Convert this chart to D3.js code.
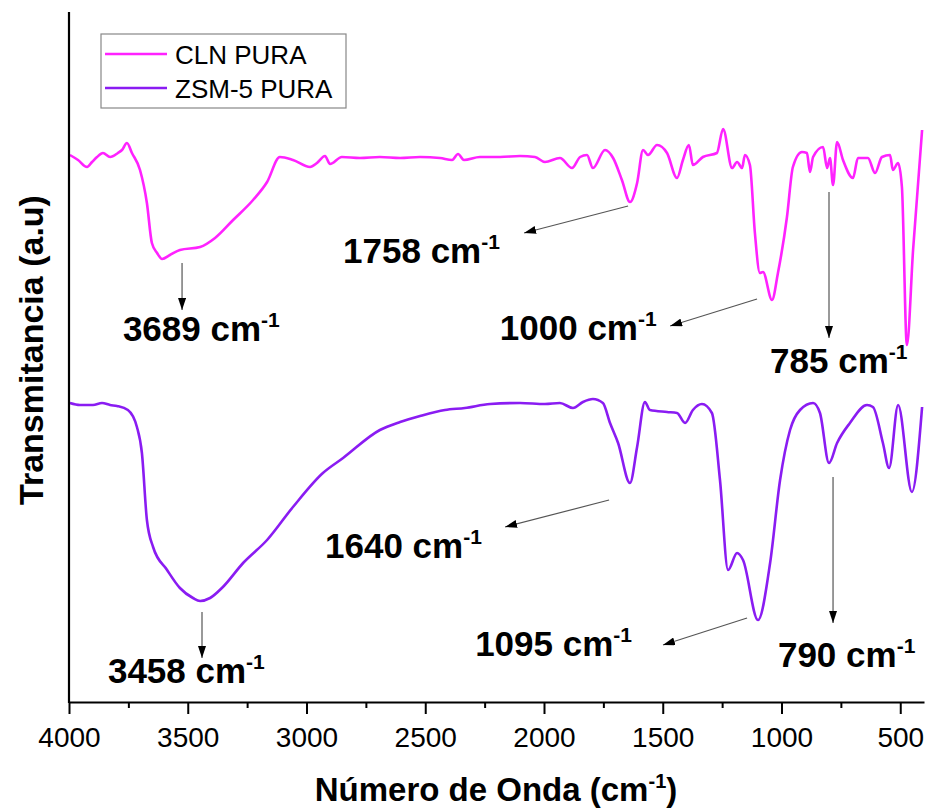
<!DOCTYPE html>
<html>
<head>
<meta charset="utf-8">
<script src="https://cdn.jsdelivr.net/npm/d3@7"></script>
<style>
  body { margin: 0; background: #fff; }
  text { font-family: "Liberation Sans", Arial, sans-serif; }
</style>
</head>
<body>
<div id="chart"></div>
<script>
// Data (wavenumber in cm-1, transmittance in a.u., offset curves)
const clnWave = [3996, 3962, 3924, 3903, 3882, 3857, 3827, 3794, 3777, 3756, 3735, 3701, 3672, 3651, 3629, 3608,
    3575, 3533, 3448, 3385, 3309, 3225, 3166, 3112, 3057, 2985, 2956, 2922, 2901, 2851, 2775, 2691, 2606, 2522,
    2438, 2387, 2362, 2337, 2270, 2185, 2101, 2038, 1996, 1933, 1882, 1848, 1819, 1794, 1743, 1709, 1672, 1638,
    1608, 1583, 1562, 1524, 1482, 1440, 1415, 1390, 1373, 1331, 1272, 1246, 1208, 1187, 1166, 1154, 1133, 1112,
    1091, 1078, 1040, 1015, 977, 952, 914, 893, 880, 867, 825, 808, 796, 783, 766, 741, 699, 678, 636, 606, 577,
    543, 531, 509, 493, 472, 446, 408];
const clnValue = [547, 542, 535, 540, 545, 549, 545, 549, 552, 559, 549, 532, 499, 459, 449, 443,
    447, 452, 455, 464, 482, 502, 520, 545, 542, 535, 539, 546, 538, 545, 544, 545, 544, 545,
    544, 542, 548, 542, 545, 545, 546, 545, 540, 544, 534, 545, 547, 534, 552, 544, 522, 500,
    519, 552, 547, 557, 549, 524, 542, 557, 537, 545, 549, 573, 534, 540, 534, 547, 537, 469,
    429, 430, 402, 429, 485, 535, 550, 549, 530, 545, 555, 534, 544, 517, 560, 542, 524, 544, 544, 529, 545,
    547, 532, 539, 515, 357, 452, 572];

const zsmWave = [3996, 3954, 3899, 3861, 3827, 3798, 3752, 3714, 3693, 3672, 3646, 3587, 3533, 3478, 3448, 3406,
    3352, 3267, 3166, 3057, 2931, 2846, 2691, 2606, 2522, 2417, 2333, 2227, 2101, 1996, 1933, 1878, 1836, 1794,
    1752, 1722, 1688, 1638, 1608, 1575, 1554, 1482, 1440, 1406, 1373, 1335, 1293, 1259, 1225, 1187, 1162, 1099,
    1048, 1006, 964, 922, 867, 838, 800, 766, 712, 640, 615, 573, 547, 509, 451, 408];
const zsmValue = [299, 297, 297, 299, 297, 296, 292, 275, 249, 182, 155, 132, 114, 104, 101, 104,
    115, 139, 162, 195, 229, 244, 272, 280, 286, 292, 294, 298, 299, 298, 299, 294, 300, 303,
    299, 279, 259, 219, 255, 300, 292, 290, 289, 279, 292, 298, 289, 222, 132, 149, 142, 82,
    139, 222, 272, 292, 299, 289, 239, 259, 279, 297, 295, 259, 234, 297, 210, 295];

const seriesNames = ["CLN PURA", "ZSM-5 PURA"];
const seriesColors = ["#ff22ff", "#8a1cf2"];

const majorTicks = [4000, 3500, 3000, 2500, 2000, 1500, 1000, 500];
const minorTicks = [3750, 3250, 2750, 2250, 1750, 1250, 750];

// Peak labels: arrow from [wave, a.u.] to [wave, a.u.], label anchored at [wave, a.u.]
const peakLabels = ["3689", "1758", "1000", "785", "1640", "3458", "1095", "790"];
const arrowFrom = [[3524, 439], [1646, 496], [1103, 403], [800, 510], [1726, 202], [3440, 90], [1145, 84], [783, 225]];
const arrowTo = [[3524, 392], [2084, 469], [1469, 376], [800, 364], [2164, 175], [3440, 44], [1499, 57], [783, 79]];
const labelAt = [[3773, 361], [2846, 439], [2186, 362], [1048, 329], [2922, 144], [3836, 19], [2290, 46], [1015, 35]];

const W = 925, H = 812;
const svg = d3.select("#chart").append("svg")
    .attr("width", W)
    .attr("height", H);

const x = d3.scaleLinear().domain([4000, 400]).range([69, 924]);
const y = d3.scaleLinear().domain([0, 690]).range([702, 12]);

// arrow marker
svg.append("defs").append("marker")
    .attr("id", "arrow")
    .attr("viewBox", "0 0 12 8")
    .attr("refX", 12)
    .attr("refY", 4)
    .attr("markerWidth", 12)
    .attr("markerHeight", 8)
    .attr("markerUnits", "userSpaceOnUse")
    .attr("orient", "auto")
    .append("path")
    .attr("d", "M0,0 L12,4 L0,8 Z")
    .attr("fill", "#000");

// spectra
const line = d3.line()
    .x(d => x(d[0]))
    .y(d => y(d[1]))
    .curve(d3.curveMonotoneX);

const series = [d3.zip(clnWave, clnValue), d3.zip(zsmWave, zsmValue)];
series.forEach((pts, i) => {
    svg.append("path")
        .datum(pts)
        .attr("d", line)
        .attr("fill", "none")
        .attr("stroke", seriesColors[i])
        .attr("stroke-width", 2.6)
        .attr("stroke-linejoin", "round");
});

// axes
const xAxis = svg.append("g")
    .attr("transform", `translate(0,${y(0)})`)
    .call(d3.axisBottom(x).tickValues(majorTicks).tickSize(12).tickSizeOuter(0)
        .tickPadding(13).tickFormat(d3.format("d")));
xAxis.select(".domain").attr("stroke-width", 2.2);
xAxis.selectAll(".tick line").attr("stroke-width", 2);
xAxis.selectAll(".tick text")
    .style("font-size", "28px")
    .attr("fill", "#000");

svg.append("g")
    .attr("transform", `translate(0,${y(0)})`)
    .call(d3.axisBottom(x).tickValues(minorTicks).tickSize(6).tickSizeOuter(0).tickFormat(""))
    .call(g => g.select(".domain").remove())
    .selectAll(".tick line").attr("stroke-width", 2);

svg.append("line")
    .attr("x1", x(4000)).attr("x2", x(4000))
    .attr("y1", y(690)).attr("y2", y(0) + 1)
    .attr("stroke", "#000")
    .attr("stroke-width", 2.2);

// axis titles
const xt = svg.append("text")
    .attr("x", 496)
    .attr("y", 801)
    .attr("text-anchor", "middle")
    .style("font-size", "33px")
    .style("font-weight", "bold")
    .text("Número de Onda (cm");
xt.append("tspan").attr("dy", -13).style("font-size", "20px").text("-1");
xt.append("tspan").attr("dy", 13).text(")");

svg.append("text")
    .attr("transform", "translate(43,350) rotate(-90)")
    .attr("text-anchor", "middle")
    .style("font-size", "34px")
    .style("font-weight", "bold")
    .text("Transmitancia (a.u)");

// peak annotations
peakLabels.forEach((lab, i) => {
    svg.append("line")
        .attr("x1", x(arrowFrom[i][0])).attr("y1", y(arrowFrom[i][1]))
        .attr("x2", x(arrowTo[i][0])).attr("y2", y(arrowTo[i][1]))
        .attr("stroke", "#555")
        .attr("stroke-width", 1.2)
        .attr("marker-end", "url(#arrow)");

    const t = svg.append("text")
        .attr("x", x(labelAt[i][0]))
        .attr("y", y(labelAt[i][1]))
        .style("font-size", "35px")
        .style("font-weight", "bold")
        .text(lab + " cm");
    t.append("tspan").attr("dy", -14).style("font-size", "21px").text("-1");
});

// legend
const legend = svg.append("g");
legend.append("rect")
    .attr("x", 101).attr("y", 34)
    .attr("width", 245).attr("height", 74)
    .attr("fill", "#fff")
    .attr("stroke", "#888")
    .attr("stroke-width", 1.2);
seriesNames.forEach((name, i) => {
    const ly = 54 + i * 34;
    legend.append("line")
        .attr("x1", 105).attr("x2", 167)
        .attr("y1", ly).attr("y2", ly)
        .attr("stroke", seriesColors[i])
        .attr("stroke-width", 2.6);
    legend.append("text")
        .attr("x", 175)
        .attr("y", ly + 10)
        .style("font-size", "26px")
        .text(name);
});
</script>
</body>
</html>
